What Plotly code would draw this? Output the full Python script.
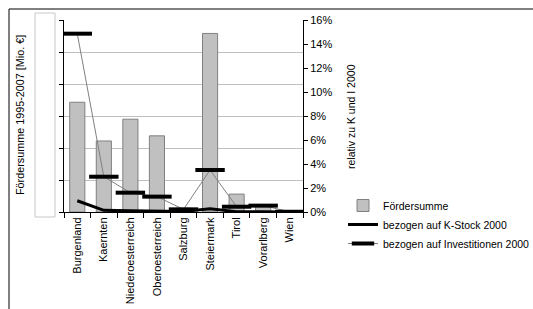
import plotly.graph_objects as go

# ---- data ----
regions = ["Burgenland", "Kaernten", "Niederoesterreich", "Oberoesterreich",
           "Salzburg", "Steiermark", "Tirol", "Vorarlberg", "Wien"]
foerdersumme = [343, 222, 290, 238, 12, 558, 56, 22, 2]          # Mio. € (left axis, labels hidden)
bez_k_stock = [0.0094, 0.0014, 0.0010, 0.0008, 0.0005, 0.0028, 0.0002, 0.0002, 0.0001]
bez_invest = [0.1486, 0.0294, 0.0161, 0.0128, 0.0022, 0.0350, 0.0044, 0.0053, 0.0002]

left_ticks = [0, 100, 200, 300, 400, 500, 600]
right_ticks = [0, 0.02, 0.04, 0.06, 0.08, 0.10, 0.12, 0.14, 0.16]

FONT = "Liberation Sans, Arial, sans-serif"

# plot-area geometry (pixels)
W, H = 533, 309
L, R, T, B = 64, 303, 20, 212
pw, ph = R - L, B - T


def px(x):
    return (x - L) / pw


def py(y):
    return (B - y) / ph


fig = go.Figure()

fig.add_trace(go.Bar(
    x=regions, y=foerdersumme, name="Fördersumme",
    marker=dict(color="#c0c0c0", line=dict(color="#808080", width=1)),
    yaxis="y",
))

fig.add_trace(go.Scatter(
    x=regions, y=bez_k_stock, name="bezogen auf K-Stock 2000",
    mode="lines", line=dict(color="black", width=3),
    yaxis="y2",
))

fig.add_trace(go.Scatter(
    x=regions, y=bez_invest, name="bezogen auf Investitionen 2000",
    mode="lines+markers", line=dict(color="#808080", width=1),
    marker=dict(symbol="line-ew", size=21, color="black",
                line=dict(color="black", width=4)),
    yaxis="y2",
))

fig.update_layout(
    template="none",
    width=W, height=H,
    margin=dict(l=L, r=W - R, t=T, b=H - B, pad=0, autoexpand=False),
    paper_bgcolor="white", plot_bgcolor="white",
    font=dict(family=FONT, size=11, color="black"),
    bargap=0.43,
    showlegend=True,
    legend=dict(
        x=px(343), y=py(191), xanchor="left", yanchor="top",
        font=dict(family=FONT, size=10.5, color="black"),
        bgcolor="rgba(0,0,0,0)", tracegroupgap=0, itemwidth=30,
    ),
    xaxis=dict(
        type="category", range=[-0.5, len(regions) - 0.5], automargin=False,
        showline=True, linecolor="black", linewidth=1,
        ticks="outside", tickson="boundaries", ticklen=5, tickcolor="black",
        tickangle=-90, tickfont=dict(size=11), showgrid=False,
    ),
    yaxis=dict(
        range=[0, 600], tickvals=left_ticks, showticklabels=False, automargin=False,
        showline=True, linecolor="black", linewidth=1,
        ticks="outside", ticklen=4, tickcolor="black",
        showgrid=True, gridcolor="#c0c0c0", gridwidth=1, zeroline=False,
    ),
    yaxis2=dict(
        range=[0, 0.16], tickvals=right_ticks, tickformat=".0%", automargin=False,
        overlaying="y", side="right", anchor="x",
        showline=True, linecolor="black", linewidth=1,
        ticks="outside", ticklen=4, tickcolor="black",
        tickfont=dict(size=11), showgrid=False, zeroline=False,
    ),
    shapes=[
        # outer chart border (only top and left edges fall inside the picture)
        dict(type="rect", xref="paper", yref="paper",
             x0=px(9), x1=px(560), y0=py(330), y1=py(9),
             line=dict(color="black", width=1), fillcolor="rgba(0,0,0,0)",
             layer="above"),
        # blank box hiding the left axis labels
        dict(type="rect", xref="paper", yref="paper",
             x0=px(35), x1=px(55), y0=py(217), y1=py(13),
             line=dict(color="#c8c8c8", width=1), fillcolor="white",
             layer="above"),
    ],
    annotations=[
        dict(text="Fördersumme 1995-2007 [Mio. €]", xref="paper", yref="paper",
             x=px(20), y=py(115), textangle=-90, showarrow=False,
             xanchor="center", yanchor="middle",
             font=dict(family=FONT, size=10.8, color="black")),
        dict(text="relativ zu K und I 2000", xref="paper", yref="paper",
             x=px(351), y=py(117), textangle=-90, showarrow=False,
             xanchor="center", yanchor="middle",
             font=dict(family=FONT, size=10.5, color="black")),
    ],
)

fig.write_html(
    "out.html",
    config={"displayModeBar": False},
    post_script="document.body.style.margin='0';document.documentElement.style.margin='0';"
                "document.body.style.overflow='hidden';",
)
